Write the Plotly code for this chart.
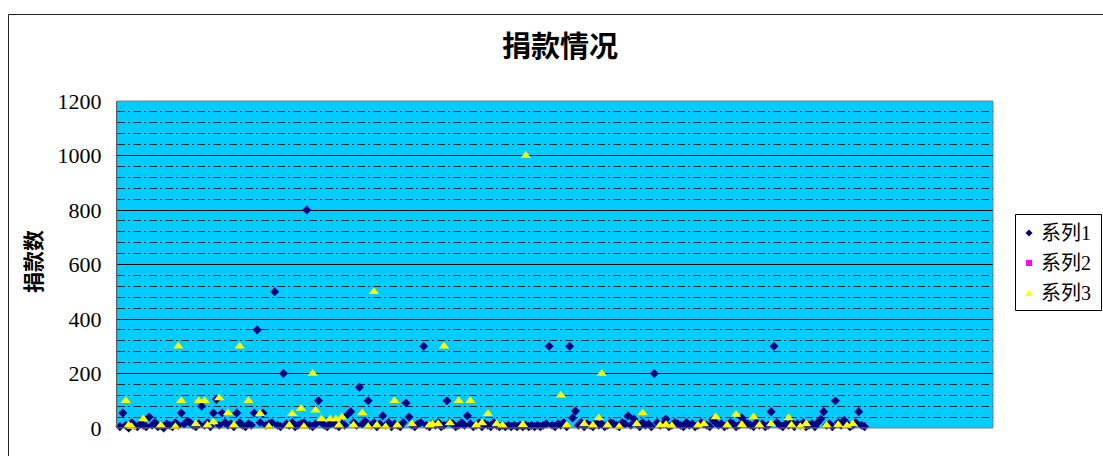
import plotly.graph_objects as go

# 捐款情况 — donation amounts per record, three series
s1_values = [
    5, 55, 10, 0, 20, 10, 5, 15, 10, 5,
    40, 10, 20, 5, 10, 0, 15, 10, 5, 20,
    10, 55, 15, 25, 20, 10, 5, 15, 80, 10,
    20, 5, 55, 105, 10, 55, 20, 10, 15, 5,
    55, 20, 10, 5, 15, 10, 55, 360, 20, 55,
    10, 15, 20, 500, 10, 5, 200, 15, 10, 20,
    5, 10, 15, 20, 800, 10, 5, 15, 100, 20,
    10, 5, 15, 20, 10, 5, 15, 10, 50, 60,
    20, 10, 150, 15, 25, 100, 10, 20, 5, 15,
    45, 10, 20, 5, 15, 10, 5, 20, 92, 40,
    10, 5, 15, 20, 300, 10, 5, 15, 10, 20,
    5, 10, 100, 20, 15, 5, 10, 20, 10, 45,
    15, 5, 10, 20, 5, 15, 10, 5, 20, 10,
    5, 10, 5, 10, 5, 10, 5, 10, 5, 10,
    5, 10, 5, 10, 5, 10, 15, 300, 10, 5,
    15, 10, 20, 5, 300, 37, 62, 10, 20, 5,
    15, 10, 5, 20, 10, 15, 5, 10, 20, 15,
    10, 5, 20, 15, 45, 10, 33, 15, 5, 20,
    10, 15, 5, 200, 20, 10, 15, 33, 5, 10,
    20, 15, 10, 5, 20, 10, 15, 5, 10, 20,
    15, 10, 5, 30, 20, 10, 15, 5, 10, 20,
    15, 5, 10, 37, 20, 15, 10, 5, 20, 10,
    15, 5, 10, 60, 300, 20, 10, 5, 15, 10,
    20, 5, 15, 10, 20, 5, 10, 15, 5, 20,
    33, 60, 10, 15, 5, 100, 20, 10, 28, 15,
    5, 10, 20, 60, 10, 5,
]
s1_x = list(range(1, len(s1_values) + 1))

# 系列2 has no recorded values
s2_x = [None]
s2_values = [None]

s3_x = [
    3, 4, 5, 9, 15, 20, 21, 22, 27, 28, 30, 31, 33, 35, 38, 40, 42, 45, 49, 52,
    59, 60, 63, 64, 67, 68, 70, 73, 75, 76, 77, 81, 84, 86, 88, 89, 92, 95, 96, 101,
    107, 108, 110, 112, 114, 117, 121, 123, 125, 127, 130, 132, 139, 140, 152, 154, 160, 163, 165, 166,
    168, 172, 178, 180, 186, 188, 190, 199, 201, 205, 209, 212, 214, 218, 220, 224, 230, 231, 234, 236,
    243, 247, 250, 252,
]
s3_values = [
    100, 10, 5, 33, 10, 5, 300, 100, 15, 100, 100, 10, 22, 110, 55, 10, 300, 100, 52, 5,
    10, 52, 72, 5, 200, 65, 33, 33, 33, 10, 40, 10, 55, 5, 500, 10, 5, 100, 10, 15,
    10, 15, 15, 300, 18, 100, 100, 10, 18, 52, 15, 10, 12, 1000, 120, 10, 15, 10, 37, 200,
    10, 5, 15, 55, 10, 12, 8, 10, 15, 40, 10, 50, 12, 40, 10, 15, 37, 10, 5, 15,
    10, 12, 8, 15,
]

series_names = ["系列1", "系列2", "系列3"]
series_colors = ["#000080", "#FF00FF", "#FFFF00"]

y_ticks = [0, 200, 400, 600, 800, 1000, 1200]

W, H = 1103, 456
L, R, T, B = 117, 110, 101, 28
PW, PH = W - L - R, H - T - B


def px_x(p):
    return (p - L) / PW


def px_y(p):
    return (H - B - p) / PH


fig = go.Figure()
fig.add_trace(go.Scatter(
    x=s1_x, y=s1_values, mode="markers", name=series_names[0],
    marker=dict(symbol="diamond", color=series_colors[0], size=7, line=dict(width=0)),
    cliponaxis=False, showlegend=False,
))
fig.add_trace(go.Scatter(
    x=s2_x, y=s2_values, mode="markers", name=series_names[1],
    marker=dict(symbol="square", color=series_colors[1], size=7, line=dict(width=0)),
    cliponaxis=False, showlegend=False,
))
fig.add_trace(go.Scatter(
    x=s3_x, y=s3_values, mode="markers", name=series_names[2],
    marker=dict(symbol="triangle-up", color=series_colors[2], size=9, line=dict(width=0)),
    cliponaxis=False, showlegend=False,
))


# ---- compact legend box drawn in pixel space on the right ----
def marker_path(kind, cx, cy):
    if kind == "diamond":
        pts = [(cx, cy - 3.5), (cx + 3.5, cy), (cx, cy + 3.5), (cx - 3.5, cy)]
    elif kind == "square":
        pts = [(cx - 3, cy - 3), (cx + 3, cy - 3), (cx + 3, cy + 3), (cx - 3, cy + 3)]
    else:
        pts = [(cx, cy - 3.5), (cx + 3.8, cy + 3), (cx - 3.8, cy + 3)]
    d = "M " + " L ".join(f"{px_x(x):.5f},{px_y(y):.5f}" for x, y in pts) + " Z"
    return d


legend_shapes = [
    dict(type="rect", xref="paper", yref="paper",
         x0=px_x(1015.5), y0=px_y(214.5), x1=px_x(1101.5), y1=px_y(310.5),
         line=dict(color="black", width=1), fillcolor="white", layer="above"),
]
legend_notes = []
row_y = [233, 263, 293]
for name, color, kind, ry in zip(series_names, series_colors, ["diamond", "square", "triangle"], row_y):
    legend_shapes.append(dict(type="path", xref="paper", yref="paper",
                              path=marker_path(kind, 1029, ry),
                              fillcolor=color, line=dict(width=0), layer="above"))
    legend_notes.append(dict(text=name, xref="paper", yref="paper",
                             x=px_x(1039), y=px_y(ry), xanchor="left", yanchor="middle",
                             showarrow=False,
                             font=dict(family="Liberation Serif, Noto Sans CJK SC, sans-serif",
                                       size=20, color="black")))

fig.update_layout(
    width=W, height=H,
    margin=dict(l=L, r=R, t=T, b=B, pad=0, autoexpand=False),
    paper_bgcolor="white",
    plot_bgcolor="#00CCFF",
    title=dict(
        text="<b>捐款情况</b>", x=560 / W, xref="container", xanchor="center",
        y=1 - 47 / H, yanchor="middle",
        font=dict(family="Noto Sans CJK SC", size=29, color="black"),
    ),
    showlegend=False,
    xaxis=dict(
        range=[0, 300], showgrid=False, zeroline=False, showticklabels=False,
        ticks="", showline=False,
    ),
    yaxis=dict(
        range=[0, 1200], tickvals=y_ticks, ticktext=[str(v) for v in y_ticks],
        showgrid=True, gridcolor="black", gridwidth=1,
        minor=dict(dtick=40, showgrid=True, gridcolor="#0a2a33", gridwidth=1,
                   griddash="8px,3px,2px,3px"),
        zeroline=False, showline=True, linecolor="#333333", linewidth=1,
        ticks="", ticklabelstandoff=10,
        tickfont=dict(family="Liberation Serif", size=22, color="black"),
    ),
    shapes=[
        # plot-area border
        dict(type="rect", xref="paper", yref="paper", x0=0, y0=0, x1=1, y1=1,
             line=dict(color="#808080", width=1), layer="above"),
        # chart frame: left and top edges
        dict(type="line", xref="paper", yref="paper",
             x0=px_x(8.5), y0=px_y(14.5), x1=px_x(8.5), y1=px_y(H + 5),
             line=dict(color="#222222", width=1)),
        dict(type="line", xref="paper", yref="paper",
             x0=px_x(8.5), y0=px_y(14.5), x1=px_x(W + 5), y1=px_y(14.5),
             line=dict(color="#222222", width=1)),
    ] + legend_shapes,
    annotations=[
        dict(text="<b>捐款数</b>", textangle=-90, xref="paper", yref="paper",
             x=px_x(32), y=px_y(262), xanchor="center", yanchor="middle",
             showarrow=False, font=dict(family="Noto Sans CJK SC", size=21, color="black")),
    ] + legend_notes,
)

fig.write_html("out.html")
